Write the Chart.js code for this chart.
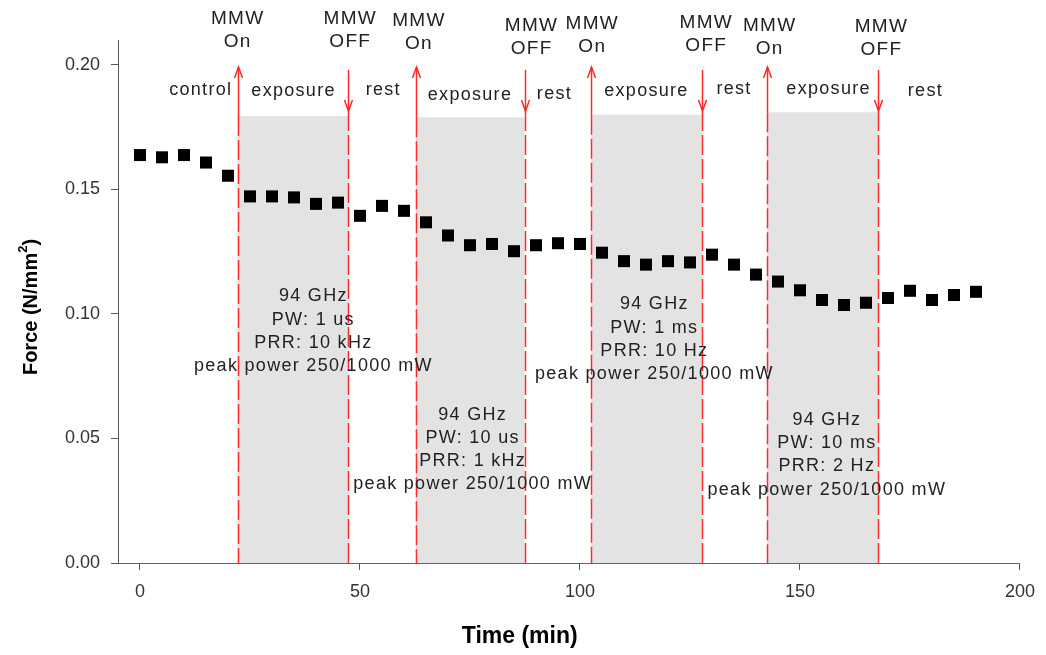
<!DOCTYPE html>
<html>
<head>
<meta charset="utf-8">
<script src="https://cdn.jsdelivr.net/npm/chart.js@4.4.1/dist/chart.umd.min.js"></script>
<style>
    html, body { margin: 0; padding: 0; background: #fff; }
    #wrap { width: 1046px; height: 655px; }
</style>
</head>
<body>
<div id="wrap"><canvas id="myChart" width="1046" height="655"></canvas></div>
<script>
    // Measured series (time in min, force in N/mm^2)
    const times = [0, 5, 10, 15, 20, 25, 30, 35, 40, 45, 50, 55, 60, 65, 70, 75, 80, 85, 90, 95,
                   100, 105, 110, 115, 120, 125, 130, 135, 140, 145, 150, 155, 160, 165, 170, 175, 180, 185, 190];
    const forces = [0.1638, 0.1629, 0.1638, 0.1608, 0.1555, 0.1472, 0.1472, 0.1468, 0.1442, 0.1447,
                    0.1394, 0.1434, 0.1414, 0.1368, 0.1315, 0.1276, 0.1281, 0.1252, 0.1276, 0.1284,
                    0.1281, 0.1246, 0.1212, 0.1198, 0.1212, 0.1207, 0.1238, 0.1198, 0.1158, 0.1130,
                    0.1095, 0.1056, 0.1036, 0.1045, 0.1064, 0.1093, 0.1056, 0.1076, 0.1089];

    const xTicks = [0, 50, 100, 150, 200];
    const yTicks = [0.00, 0.05, 0.10, 0.15, 0.20];

    // MMW exposure windows
    const onTimes = [22.2, 62.7, 102.6, 142.5];
    const offTimes = [47.3, 87.4, 127.7, 167.8];
    const boxTops = [0.1795, 0.179, 0.180, 0.181];

    // annotation text
    const mmwLabels = ['On', 'OFF', 'On', 'OFF', 'On', 'OFF', 'On', 'OFF'];
    const mmwX = [22.2, 47.8, 63.4, 89.0, 102.8, 128.7, 143.1, 168.5];
    const mmwY = [0.2185, 0.2185, 0.2177, 0.2157, 0.2165, 0.2169, 0.2157, 0.2153];

    const phaseLabels = ['control', 'exposure', 'rest', 'exposure', 'rest', 'exposure', 'rest', 'exposure', 'rest'];
    const phaseX = [13.8, 34.9, 55.3, 75.0, 94.2, 115.1, 135.0, 156.5, 178.5];
    const phaseY = [0.190, 0.1895, 0.190, 0.188, 0.1883, 0.1895, 0.1903, 0.1903, 0.1895];

    const notes = [
        ['94 GHz', 'PW: 1 us', 'PRR: 10 kHz', 'peak power 250/1000 mW'],
        ['94 GHz', 'PW: 10 us', 'PRR: 1 kHz', 'peak power 250/1000 mW'],
        ['94 GHz', 'PW: 1 ms', 'PRR: 10 Hz', 'peak power 250/1000 mW'],
        ['94 GHz', 'PW: 10 ms', 'PRR: 2 Hz', 'peak power 250/1000 mW']
    ];
    const noteX = [39.4, 75.6, 116.9, 156.1];
    const noteY = [0.107, 0.0596, 0.1038, 0.0575];

    const FONT = '"Liberation Sans", Arial, sans-serif';
    const RED = '#ff2a2a';

    const overlay = {
        id: 'overlay',
        beforeDraw(chart) {
            const ctx = chart.ctx, xs = chart.scales.x, ys = chart.scales.y;
            const y0 = ys.getPixelForValue(0);
            ctx.save();
            // gray exposure boxes
            ctx.fillStyle = '#e3e3e3';
            onTimes.forEach((t, i) => {
                const x0 = xs.getPixelForValue(t);
                const x1 = xs.getPixelForValue(offTimes[i]);
                const yt = ys.getPixelForValue(boxTops[i]);
                ctx.fillRect(x0, yt, x1 - x0, y0 - yt);
            });

            // red markers
            ctx.strokeStyle = RED;
            ctx.lineWidth = 1.5;
            onTimes.forEach((t, i) => {
                const x = Math.round(xs.getPixelForValue(t)) + 0.5;
                const yt = ys.getPixelForValue(boxTops[i]);
                const tip = ys.getPixelForValue(0.1992);
                ctx.setLineDash([20, 4]);
                ctx.beginPath(); ctx.moveTo(x, yt); ctx.lineTo(x, y0); ctx.stroke();
                ctx.setLineDash([]);
                ctx.beginPath(); ctx.moveTo(x, tip); ctx.lineTo(x, yt); ctx.stroke();
                ctx.beginPath();
                ctx.moveTo(x - 4, tip + 11); ctx.lineTo(x, tip); ctx.lineTo(x + 4, tip + 11);
                ctx.stroke();
            });
            offTimes.forEach((t, i) => {
                const x = Math.round(xs.getPixelForValue(t)) + 0.5;
                const top = ys.getPixelForValue(0.198);
                const tip = ys.getPixelForValue(0.1815);
                ctx.setLineDash([20, 4]);
                ctx.beginPath(); ctx.moveTo(x, tip); ctx.lineTo(x, y0); ctx.stroke();
                ctx.setLineDash([]);
                ctx.beginPath(); ctx.moveTo(x, top); ctx.lineTo(x, tip); ctx.stroke();
                ctx.beginPath();
                ctx.moveTo(x - 4, tip - 11); ctx.lineTo(x, tip); ctx.lineTo(x + 4, tip - 11);
                ctx.stroke();
            });
            ctx.restore();
        },
        afterDatasetsDraw(chart) {
            const ctx = chart.ctx, xs = chart.scales.x, ys = chart.scales.y;
            ctx.save();
            ctx.fillStyle = '#222';
            ctx.textAlign = 'center';
            ctx.textBaseline = 'middle';
            ctx.letterSpacing = '1.3px';

            ctx.font = '19px ' + FONT;
            mmwLabels.forEach((lab, i) => {
                const x = xs.getPixelForValue(mmwX[i]);
                const y = ys.getPixelForValue(mmwY[i]);
                ctx.fillText('MMW', x, y);
                ctx.fillText(lab, x, y + 23);
            });
            ctx.font = '18px ' + FONT;
            phaseLabels.forEach((lab, i) => {
                ctx.fillText(lab, xs.getPixelForValue(phaseX[i]), ys.getPixelForValue(phaseY[i]));
            });
            notes.forEach((lines, i) => {
                const x = xs.getPixelForValue(noteX[i]);
                const y = ys.getPixelForValue(noteY[i]);
                lines.forEach((txt, j) => ctx.fillText(txt, x, y + j * 23.3));
            });

            // axis titles
            ctx.fillStyle = '#000';
            ctx.letterSpacing = '0px';
            ctx.font = 'bold 23px ' + FONT;
            ctx.fillText('Time (min)', xs.getPixelForValue(86.3), 637);

            // y title with a real superscript 2
            ctx.translate(31, 307);
            ctx.rotate(-Math.PI / 2);
            ctx.textAlign = 'left';
            const big = 'bold 20px ' + FONT, small = 'bold 13px ' + FONT;
            ctx.font = big;
            const w1 = ctx.measureText('Force (N/mm').width;
            const w3 = ctx.measureText(')').width;
            ctx.font = small;
            const w2 = ctx.measureText('2').width;
            let x = -(w1 + w2 + w3) / 2;
            ctx.font = big;
            ctx.fillText('Force (N/mm', x, 0);
            x += w1;
            ctx.font = small;
            ctx.fillText('2', x, -8);
            x += w2;
            ctx.font = big;
            ctx.fillText(')', x, 0);
            ctx.restore();
        }
    };

    const ctx = document.getElementById('myChart').getContext('2d');
    new Chart(ctx, {
        type: 'scatter',
        data: {
            datasets: [{
                label: 'Force',
                data: times.map((t, i) => ({ x: t, y: forces[i] })),
                pointStyle: 'rect',
                pointRadius: 8.5,
                backgroundColor: '#000',
                borderColor: '#000',
                borderWidth: 0
            }]
        },
        options: {
            responsive: false,
            animation: false,
            layout: { padding: { left: 0, right: 23, top: 40, bottom: 0 } },
            plugins: {
                legend: { display: false },
                tooltip: { enabled: false }
            },
            scales: {
                x: {
                    type: 'linear',
                    min: -5,
                    max: 200,
                    afterBuildTicks: s => { s.ticks = xTicks.map(v => ({ value: v })); },
                    afterFit: s => { s.height = 92; },
                    grid: { drawOnChartArea: false, tickLength: 7, color: '#555' },
                    border: { color: '#666', width: 1 },
                    ticks: { color: '#333', font: { family: FONT, size: 18 }, padding: 11, maxRotation: 0 }
                },
                y: {
                    min: 0,
                    max: 0.21,
                    afterBuildTicks: s => { s.ticks = yTicks.map(v => ({ value: v })); },
                    afterFit: s => { s.width = 118; },
                    grid: { drawOnChartArea: false, tickLength: 7, color: '#555' },
                    border: { color: '#555', width: 1 },
                    ticks: {
                        color: '#333',
                        font: { family: FONT, size: 18 },
                        padding: 11,
                        callback: v => v.toFixed(2)
                    }
                }
            }
        },
        plugins: [overlay]
    });
</script>
</body>
</html>
